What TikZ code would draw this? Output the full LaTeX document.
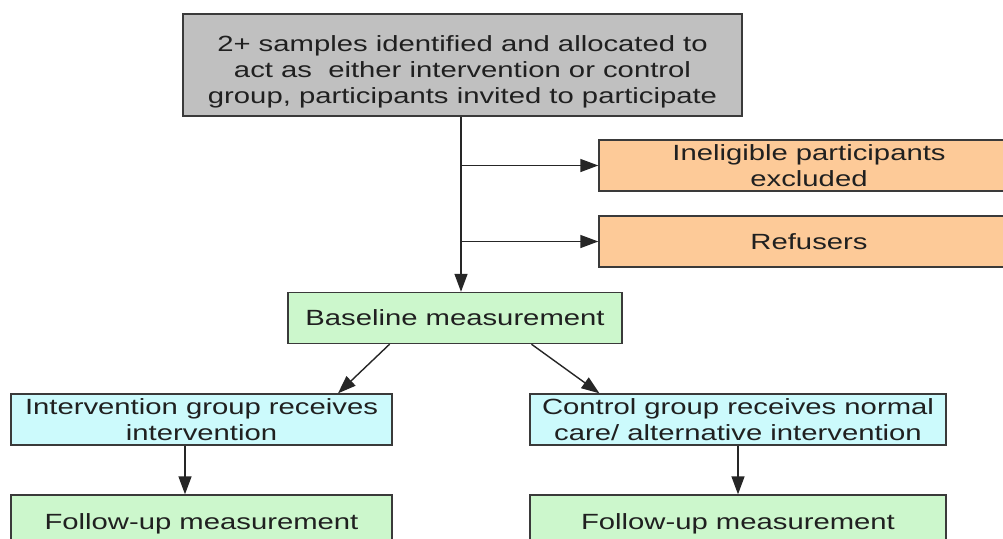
\documentclass[tikz,border=0pt]{standalone}
\usepackage{fontspec}
\newfontfamily\widefont[FakeStretch=1.33]{Liberation Sans}
\usetikzlibrary{arrows.meta,calc}
\definecolor{boxgray}{HTML}{C0C0C0}
\definecolor{boxorange}{HTML}{FDCA98}
\definecolor{boxgreen}{HTML}{CCF7CC}
\definecolor{boxcyan}{HTML}{CCFAFC}
\definecolor{edgecol}{HTML}{3A3A3A}
\definecolor{txtcol}{HTML}{202020}
\tikzset{
  flowbox/.style={draw=edgecol, line width=1.4pt, inner sep=0pt, align=center,
    text=txtcol, font={\widefont\fontsize{22}{26}\selectfont}},
  conn/.style={draw=black!85, line width=1.4pt},
  arr/.style={conn, -{Triangle[length=18pt,width=13pt]}},
}
\begin{document}
\begin{tikzpicture}[x=1pt,y=-1pt]
\useasboundingbox (0,0) rectangle (1003,538);
\clip (0,0) rectangle (1003,538);
\fill[white] (0,0) rectangle (1003,538);

\node[flowbox, fill=boxgray, minimum width=559pt, minimum height=102pt, text height=81pt] (top) at (462.5,65)
  {2+ samples identified and allocated to\\act as~ either intervention or control\\group, participants invited to participate};
\node[flowbox, fill=boxorange, minimum width=420pt, minimum height=51pt] (inel) at (809,165.5)
  {Ineligible participants\\excluded};
\node[flowbox, fill=boxorange, minimum width=420pt, minimum height=51pt] (ref) at (809,241.5)
  {Refusers};
\node[flowbox, fill=boxgreen, minimum width=334pt, minimum height=51pt] (base) at (455,318)
  {Baseline measurement};
\node[flowbox, fill=boxcyan, minimum width=381pt, minimum height=51pt] (int) at (201.5,419.5)
  {Intervention group receives\\intervention};
\node[flowbox, fill=boxcyan, minimum width=416pt, minimum height=51pt] (ctl) at (738,419.5)
  {Control group receives normal\\care/ alternative intervention};
\node[flowbox, fill=boxgreen, minimum width=381pt, minimum height=60pt, text depth=0pt] (fu1) at (201.5,525)
  {\raisebox{6pt}{Follow-up measurement}};
\node[flowbox, fill=boxgreen, minimum width=416pt, minimum height=60pt, text depth=0pt] (fu2) at (738,525)
  {\raisebox{6pt}{Follow-up measurement}};

\coordinate (vx) at (461,0);
\coordinate (b1) at (vx |- inel.west);
\coordinate (b2) at (vx |- ref.west);
\draw[arr] (vx |- top.south) -- (vx |- base.north);
\draw[arr] (b1) -- (inel.west);
\draw[arr] (b2) -- (ref.west);
\draw[arr] ($(base.south west)!0.305!(base.south east)$) -- ($(int.north west)!0.857!(int.north east)$);
\draw[arr] ($(base.south west)!0.728!(base.south east)$) -- ($(ctl.north west)!0.168!(ctl.north east)$);
\draw[arr] (185,0 |- int.south) -- (185,0 |- fu1.north);
\draw[arr] (738,0 |- ctl.south) -- (738,0 |- fu2.north);
\end{tikzpicture}
\end{document}
